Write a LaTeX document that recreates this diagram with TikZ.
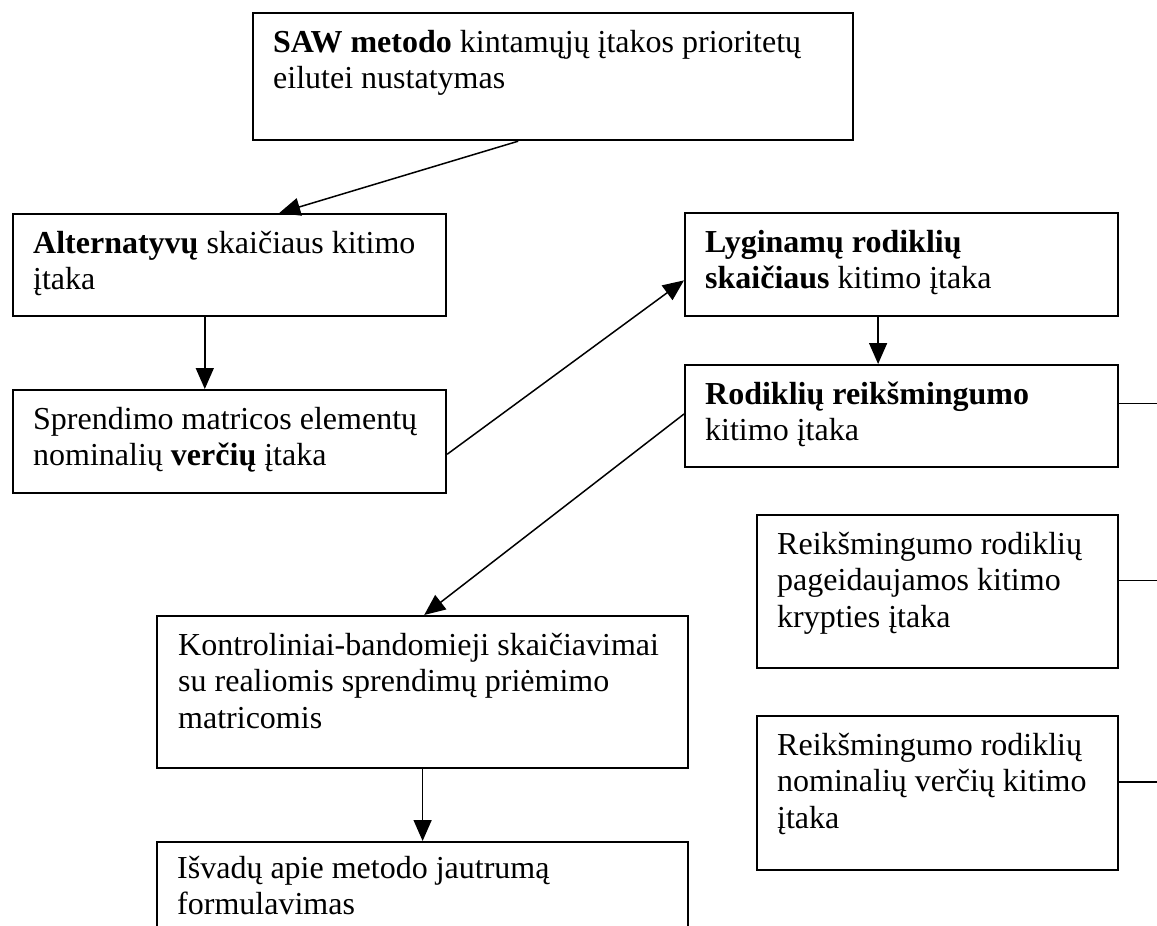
\documentclass[tikz,border=0pt]{standalone}
\usepackage{fontspec}
\setmainfont{Liberation Serif}
\usetikzlibrary{arrows.meta,calc}
\begin{document}
\begin{tikzpicture}[x=1pt,y=-1pt,
  box/.style={draw, line width=2.2pt, inner sep=0pt, anchor=north west},
  txt/.style={anchor=north west, inner sep=0pt, align=left, font=\fontsize{32}{36.5}\selectfont},
  conn/.style={line width=1.5pt},
  arr/.style={conn, -{Triangle[length=21pt,width=18pt]}}]
\useasboundingbox (0,0) rectangle (1157,926);
\clip (0,0) rectangle (1157,926);
\coordinate (edge) at (1157,0);
% boxes
\node[box, minimum width=600pt, minimum height=127pt] (top) at (252,12) {};
\node[txt] (topt) at (273,26.45) {\strut\textbf{SAW metodo} kintamųjų įtakos prioritetų\\eilutei nustatymas};
\node[box, minimum width=433pt, minimum height=102pt] (alt) at (12,213) {};
\node[txt] (altt) at (33,227.45) {\strut\textbf{Alternatyvų} skaičiaus kitimo\\įtaka};
\node[box, minimum width=433pt, minimum height=103pt] (spr) at (12,389) {};
\node[txt] (sprt) at (33,403.45) {\strut Sprendimo matricos elementų\\nominalių \textbf{verčių} įtaka};
\node[box, minimum width=433pt, minimum height=103pt] (lyg) at (684,212) {};
\node[txt] (lygt) at (705,226.45) {\strut\textbf{Lyginamų rodiklių}\\\textbf{skaičiaus} kitimo įtaka};
\node[box, minimum width=433pt, minimum height=102pt] (rod) at (684,364) {};
\node[txt] (rodt) at (705,378.45) {\strut\textbf{Rodiklių reikšmingumo}\\kitimo įtaka};
\node[box, minimum width=361pt, minimum height=153pt] (pag) at (756,514) {};
\node[txt] (pagt) at (777,528.45) {\strut Reikšmingumo rodiklių\\pageidaujamos kitimo\\krypties įtaka};
\node[box, minimum width=361pt, minimum height=154pt] (nom) at (756,715) {};
\node[txt] (nomt) at (777,729.45) {\strut Reikšmingumo rodiklių\\nominalių verčių kitimo\\įtaka};
\node[box, minimum width=531pt, minimum height=152pt] (kon) at (156,615) {};
\node[txt] (kont) at (178,629.45) {\strut Kontroliniai-bandomieji skaičiavimai\\su realiomis sprendimų priėmimo\\matricomis};
\node[box, minimum width=531pt, minimum height=130pt] (isv) at (156,841) {};
\node[txt] (isvt) at (177,852.45) {\strut Išvadų apie metodo jautrumą\\formulavimas};
% connectors
\draw[arr] ($(top.south west)!0.442!(top.south east)$) -- ($(alt.north west)!0.614!(alt.north east)$);
\draw[arr] ($(alt.south west)!0.443!(alt.south east)$) -- ($(spr.north west)!0.443!(spr.north east)$);
\draw[arr] ($(spr.north east)!0.62!(spr.south east)$) -- ($(lyg.north west)!0.65!(lyg.south west)$);
\draw[arr] ($(lyg.south west)!0.446!(lyg.south east)$) -- ($(rod.north west)!0.446!(rod.north east)$);
\draw[arr] ($(rod.north west)!0.48!(rod.south west)$) -- ($(kon.north west)!0.503!(kon.north east)$);
\draw[arr] ($(kon.south west)!0.5!(kon.south east)$) -- ($(isv.north west)!0.5!(isv.north east)$);
\draw[conn] ($(rod.north east)!0.38!(rod.south east)$) coordinate (r1) -- (r1 -| edge);
\draw[conn] ($(pag.north east)!0.43!(pag.south east)$) coordinate (r2) -- (r2 -| edge);
\draw[conn] ($(nom.north east)!0.43!(nom.south east)$) coordinate (r3) -- (r3 -| edge);
\end{tikzpicture}
\end{document}
